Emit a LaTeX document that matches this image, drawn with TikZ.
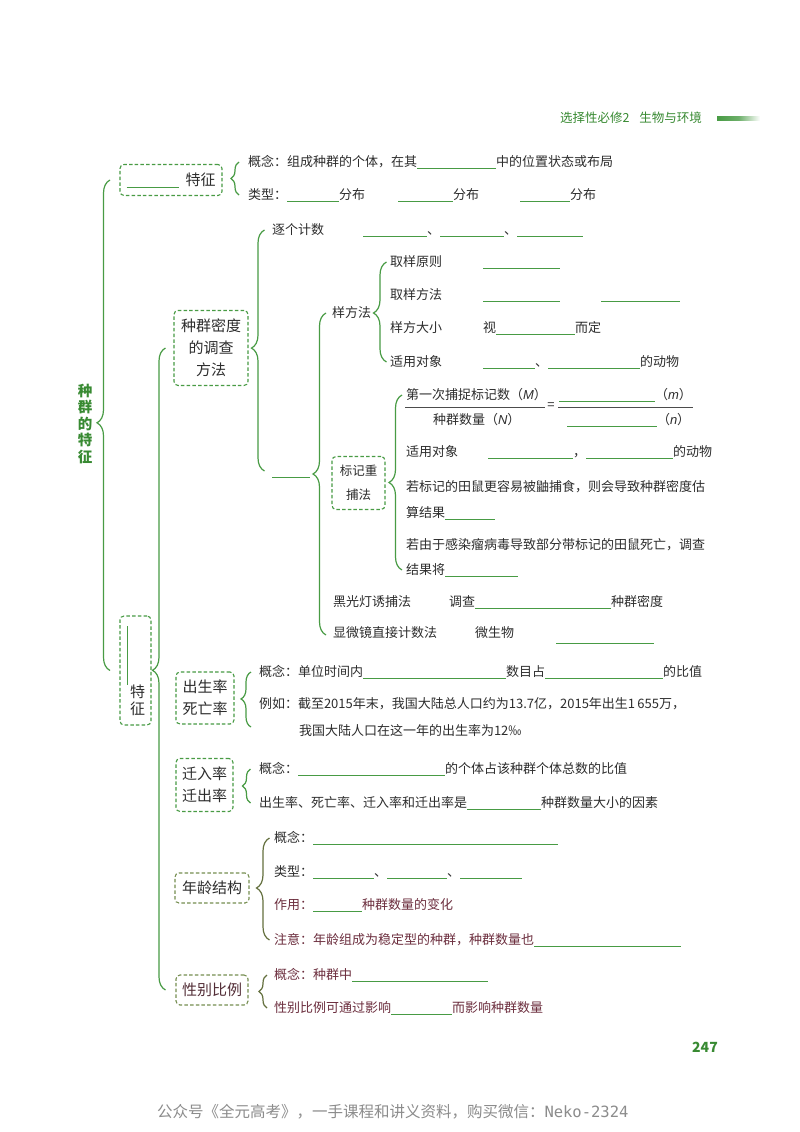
\documentclass[tikz,border=0pt]{standalone}
\usepackage{fontspec}
\setmainfont{Noto Sans CJK SC}
\newfontfamily\latsans{Liberation Sans}
\newfontfamily\monofont{DejaVu Sans Mono}
\usepackage{xcolor}
\usetikzlibrary{decorations.pathreplacing,calc,positioning}

\definecolor{linegreen}{RGB}{72,155,68}
\definecolor{titlegreen}{RGB}{56,138,50}
\definecolor{olivegreen}{RGB}{118,142,80}
\definecolor{olivebrk}{RGB}{100,112,62}
\definecolor{textgray}{RGB}{45,45,45}
\definecolor{darkmaroon}{RGB}{108,46,62}
\definecolor{footgray}{RGB}{140,140,140}

\newcommand{\blank}[1]{\textcolor{linegreen}{\rule[-2.5pt]{#1pt}{0.8pt}}}
\newcommand{\gap}[1]{\hspace*{#1pt}}
\newcommand{\var}[1]{{\latsans\itshape #1}}

\begin{document}
\begin{tikzpicture}[
  x=1pt,y=-1pt,
  every node/.style={inner sep=0pt,outer sep=0pt,text=textgray,font=\fontsize{13}{16}\selectfont},
  item/.style={anchor=west},
  box/.style={draw=linegreen,dash pattern=on 3.5pt off 2.2pt,line width=1.1pt,rounded corners=4pt,align=center,font=\fontsize{15}{22}\selectfont},
  brk/.style 2 args={decorate,decoration={brace,amplitude=#1,aspect=#2},draw=linegreen,line width=1.2pt},
  blankline/.style={draw=linegreen,line width=0.8pt},
  fracline/.style={draw=textgray!85,line width=0.7pt}
]
\fill[white] (0,0) rectangle (800,1132);
\useasboundingbox (0,0) rectangle (800,1132);

% header
\node[item,font=\fontsize{12.5}{14}\selectfont,text=titlegreen] (head) at (560,118) {选择性必修2\gap{10}生物与环境};
\shade[left color=linegreen,right color=white,middle color=linegreen!80] (717,116) rectangle (760,120.5);

% title
\node[font=\bfseries\fontsize{14.5}{16.5}\selectfont,text=titlegreen,align=center] (title) at (85,424) {种\\群\\的\\特\\征};

% distribution
\node[box,minimum width=102pt,minimum height=31pt] (dist) at (171,180) {\blank{52}\gap{7}特征};
\node[item] (distA) at (248,162) {概念：组成种群的个体，在其\blank{79}中的位置状态或布局};
\node[item] (distB) at (248,195) {类型：\blank{52}分布\gap{33}\blank{55}分布\gap{41}\blank{50}分布};
\draw[brk={8pt}{0.5}] ([xshift=-9]distB.west) -- ([xshift=-9]distA.west);

% density methods
\node[box,minimum width=74pt,minimum height=75pt] (dens) at (211,348) {种群密度\\的调查\\方法};
\node[item] (count) at (272,230) {逐个计数\gap{39}\blank{64}、\blank{64}、\blank{66}};
\node[item] (mark) at (272,471) {\vphantom{字}\blank{38}};
\draw[brk={13pt}{0.51}] ([xshift=-7.5]mark.west) -- ([xshift=-7.5]count.west);

\node[item] (quad) at (332,313) {样方法};
\node[item] (quadA) at (390,262) {取样原则\gap{41}\blank{77}};
\node[item] (quadB) at (390,295) {取样方法\gap{41}\blank{77}\gap{41}\blank{79}};
\node[item] (quadC) at (390,328) {样方大小\gap{41}视\blank{79}而定};
\node[item] (quadD) at (390,362) {适用对象\gap{41}\blank{52}、\blank{92}的动物};
\draw[brk={13pt}{0.49}] ([xshift=-3.5]quadD.west) -- ([xshift=-3.5]quadA.west);

\node[box,font=\fontsize{12.5}{24}\selectfont,minimum width=53pt,minimum height=53pt] (recap) at (358.5,483) {标记重\\捕法};
\node[item] (frM) at (406,395) {第一次捕捉标记数（\var{M}）};
\node[item] (frN) at (433,420) {种群数量（\var{N}）};
\node (freq) at (551,406) {=};
\node[item] (frm) at (559,395) {\blank{96}（\var{m}）};
\node[item] (frn) at (567,420) {\blank{90}（\var{n}）};
\draw[fracline] (405,407) -- (545,407);
\draw[fracline] (558,407) -- (693,407);
\node[item] (recA) at (406,452) {适用对象\gap{30}\blank{85}，\blank{87}的动物};
\node[item] (recB) at (406,487) {若标记的田鼠更容易被鼬捕食，则会导致种群密度估};
\node[item] (recC) at (406,513) {算结果\blank{50}};
\node[item] (recD) at (406,545) {若由于感染瘤病毒导致部分带标记的田鼠死亡，调查};
\node[item] (recE) at (406,570) {结果将\blank{73}};
\draw[brk={13pt}{0.5}] ([xshift=-4]recE.west) -- ([xshift=-4]frM.west);

\node[item] (light) at (333,602) {黑光灯诱捕法\gap{38}调查\blank{136}种群密度};
\node[item] (micro) at (333,635) {显微镜直接计数法\gap{38}微生物\gap{42}\textcolor{linegreen}{\rule[-6pt]{98pt}{0.8pt}}};
\draw[brk={13pt}{0.5}] ([xshift=-7]micro.west) -- ([xshift=-6]quad.west);

% quantity features
\node[box,minimum width=31pt,minimum height=109pt] (feat) at (135.5,670.5) {};
\draw[blankline] ($(feat.north west)+(7,10)$) -- ++(0,59);
\node[font=\fontsize{15}{17}\selectfont,align=center] (featT) at (137.5,700) {特\\征};
\draw[brk={13pt}{0.505}] ([xshift=-10]feat.west) -- ([xshift=-10]dist.west);

% birth and death
\node[box,minimum width=58pt,minimum height=52pt] (birth) at (205,698) {出生率\\死亡率};
\node[item] (birthA) at (259,672) {概念：单位时间内\blank{143}数目占\blank{118}的比值};
\node[item] (birthB) at (259,704) {例如：截至2015年末，我国大陆总人口约为13.7亿，2015年出生1\,655万，};
\node[item] (birthC) at (299,731) {我国大陆人口在这一年的出生率为12‰};
\draw[brk={10pt}{0.51}] ($(birthA.west)+(-8,55)$) -- ([xshift=-8]birthA.west);

% migration
\node[box,minimum width=57pt,minimum height=53pt] (migr) at (204.5,785) {迁入率\\迁出率};
\node[item] (migrA) at (259,769) {概念：\blank{147}的个体占该种群个体总数的比值};
\node[item] (migrB) at (259,803) {出生率、死亡率、迁入率和迁出率是\blank{74}种群数量大小的因素};
\draw[brk={8pt}{0.5}] ([xshift=-8.5]migrB.west) -- ([xshift=-8.5]migrA.west);

% age structure
\node[box,draw=olivegreen,minimum width=74pt,minimum height=30pt] (age) at (212,888) {年龄结构};
\node[item] (ageA) at (274,838) {概念：\blank{245}};
\node[item] (ageB) at (274,872) {类型：\blank{61}、\blank{60}、\blank{62}};
\node[item,text=darkmaroon] (ageC) at (274,905) {作用：\blank{49}种群数量的变化};
\node[item,text=darkmaroon] (ageD) at (274,940) {注意：年龄组成为稳定型的种群，种群数量也\blank{147}};
\draw[brk={13pt}{0.51},draw=olivebrk] ([xshift=-4.5]ageD.west) -- ([xshift=-4.5]ageA.west);

% sex ratio
\node[box,draw=olivegreen,text=darkmaroon!60!textgray,minimum width=72pt,minimum height=30pt] (sex) at (212,990) {性别比例};
\node[item,text=darkmaroon] (sexA) at (274,975) {概念：种群中\blank{136}};
\node[item,text=darkmaroon] (sexB) at (274,1008) {性别比例可通过影响\blank{61}而影响种群数量};
\draw[brk={8pt}{0.5},draw=olivebrk] ([xshift=-7]sexB.west) -- ([xshift=-7]sexA.west);

% second level
\draw[brk={13pt}{0.498}] ([xshift=-10.5]sex.west) -- ([xshift=-8.5]dens.west);

% page number and footer
\node[font=\bfseries\fontsize{14}{16}\selectfont,text=titlegreen] (page) at (705,1047) {247};
\node[item,text=footgray,font=\fontsize{15.5}{17}\selectfont] (foot) at (157,1112) {公众号《全元高考》，一手课程和讲义资料，购买微信：{\monofont Neko-2324}};
\end{tikzpicture}
\end{document}
